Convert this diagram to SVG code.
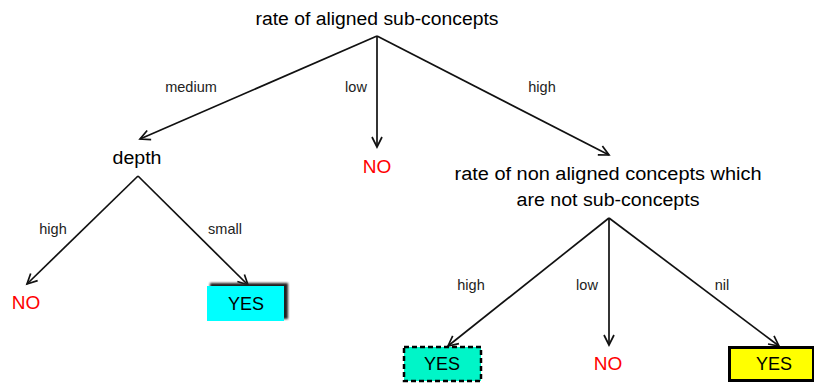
<svg xmlns="http://www.w3.org/2000/svg" width="814" height="383" viewBox="0 0 814 383">
<style>
.t{font-family:"Liberation Sans",Arial,sans-serif;fill:#000;text-anchor:middle}
.h{font-size:18px}
.l{font-size:14.5px;fill:#222}
.no{font-size:19px;fill:#ff0000}
.y{font-size:18px}
.c{stroke:#111;stroke-width:1.7;fill:none;marker-end:url(#a)}
</style>
<defs>
<marker id="a" markerUnits="userSpaceOnUse" markerWidth="14" markerHeight="14" refX="11" refY="6" orient="auto" viewBox="0 0 14 12">
<path d="M1,1 L11,6 L1,11" fill="none" stroke="#111" stroke-width="1.7"/>
</marker>
<filter id="sh" x="-20%" y="-30%" width="140%" height="160%"><feGaussianBlur stdDeviation="1.2"/></filter>
</defs>
<rect width="814" height="383" fill="#fff"/>
<g id="connectors">
<line class="c" x1="377" y1="36" x2="140" y2="139"/>
<line class="c" x1="377" y1="36" x2="377" y2="147"/>
<line class="c" x1="377" y1="36" x2="609" y2="155"/>
<text class="t l" x="191" y="92">medium</text>
<text class="t l" x="356" y="92">low</text>
<text class="t l" x="542" y="92">high</text>
<line class="c" x1="138" y1="176" x2="27" y2="284"/>
<line class="c" x1="138" y1="176" x2="248" y2="285"/>
<text class="t l" x="53" y="234">high</text>
<text class="t l" x="225" y="234">small</text>
<line class="c" x1="609" y1="218" x2="448" y2="346"/>
<line class="c" x1="609" y1="218" x2="609" y2="345"/>
<line class="c" x1="609" y1="218" x2="779" y2="346"/>
<text class="t l" x="471" y="290">high</text>
<text class="t l" x="587" y="290">low</text>
<text class="t l" x="722" y="290">nil</text>
</g>
<g id="root"><text class="t h" x="377" y="25" textLength="243" lengthAdjust="spacingAndGlyphs">rate of aligned sub-concepts</text></g>
<g id="depth"><text class="t h" x="137" y="164" textLength="49" lengthAdjust="spacingAndGlyphs">depth</text></g>
<g id="no1"><text class="t no" x="377" y="173">NO</text></g>
<g id="nonaligned">
<text class="t h" x="608" y="180" textLength="307" lengthAdjust="spacingAndGlyphs">rate of non aligned concepts which</text>
<text class="t h" x="608" y="206" textLength="183" lengthAdjust="spacingAndGlyphs">are not sub-concepts</text>
</g>
<g id="no2"><text class="t no" x="26" y="309">NO</text></g>
<g id="yes1">
<rect x="210" y="283" width="78" height="36" fill="#222" filter="url(#sh)"/>
<rect x="207" y="286" width="77" height="35" fill="#00ffff"/>
<text class="t y" x="246" y="310">YES</text>
</g>
<g id="yes2">
<rect x="404" y="347" width="77" height="34" fill="#00f5c8" stroke="#000" stroke-width="2.5" stroke-dasharray="5,3"/>
<text class="t y" x="442" y="370">YES</text>
</g>
<g id="no3"><text class="t no" x="608" y="370">NO</text></g>
<g id="yes3">
<rect x="729.5" y="347.5" width="84" height="33" fill="#ffff00" stroke="#000" stroke-width="3"/>
<text class="t y" x="774" y="370">YES</text>
</g>
</svg>
